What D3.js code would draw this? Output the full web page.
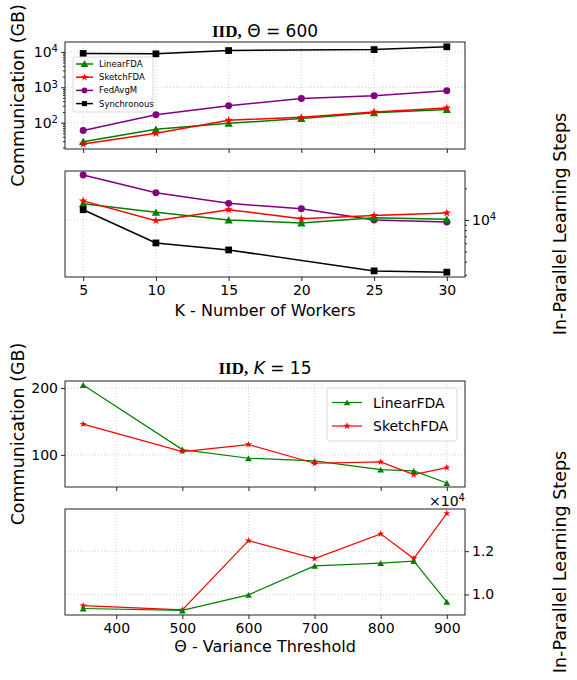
<!DOCTYPE html>
<html>
<head>
<meta charset="utf-8">
<script src="https://cdn.jsdelivr.net/npm/d3@7"></script>
<style>
body { margin: 0; background: #fff; }
text { font-family: "DejaVu Sans", sans-serif; fill: #000; }
</style>
</head>
<body>
<div id="chart"></div>
<script>
// data
const kVals = [5, 10, 15, 20, 25, 30];
const kSync = [5, 10, 15, 25, 30];
const commLinear = [29, 65, 96, 130, 190, 235];
const commSketch = [25, 50, 117, 142, 200, 260];
const commFedAvgM = [60, 168, 302, 480, 580, 800];
const commSync = [9000, 8800, 10900, 11600, 13900];
const stepsLinear = [14300, 11840, 10000, 9360, 10520, 10150];
const stepsSketch = [15200, 9850, 12530, 10290, 11050, 11660];
const stepsFedAvgM = [26800, 18200, 14400, 12800, 10000, 9570];
const stepsSync = [12530, 6040, 5180, 3270, 3180];

const thetaVals = [350, 500, 600, 700, 800, 850, 900];
const commLinearTheta = [204.5, 108, 95, 91, 78, 76, 58];
const commSketchTheta = [146, 105, 115.5, 87.5, 89.5, 70.5, 81];
const stepsLinearTheta = [9350, 9260, 9980, 11320, 11450, 11540, 9660];
const stepsSketchTheta = [9480, 9290, 12490, 11660, 12800, 11660, 13750];

const kTicks = [5, 10, 15, 20, 25, 30];
const thetaTicks = [400, 500, 600, 700, 800, 900];

const width = 577, height = 680;
const left = 65, right = 465;

const svg = d3.select("#chart")
    .append("svg")
    .attr("width", width)
    .attr("height", height);

svg.append("rect").attr("width", width).attr("height", height).attr("fill", "#fff");

const colors = { lin: "green", sk: "red", fed: "purple", sync: "black" };
const shapes = { lin: d3.symbolTriangle, sk: d3.symbolStar, fed: d3.symbolCircle, sync: d3.symbolSquare };

const xK = d3.scaleLinear().domain([3.75, 31.25]).range([left, right]);
const xT = d3.scaleLinear().domain([322.5, 927.5]).range([left, right]);

function sup(sel, base, exp) {
    sel.text(null);
    sel.append("tspan").text(base);
    sel.append("tspan").attr("dy", "-0.45em").style("font-size", "0.72em").text(exp);
}

function frame(top, bottom) {
    svg.append("rect")
        .attr("x", left).attr("y", top)
        .attr("width", right - left).attr("height", bottom - top)
        .attr("fill", "none").attr("stroke", "#222").attr("stroke-width", 1);
}

function gridX(x, ticks, top, bottom) {
    svg.append("g").selectAll("line").data(ticks).join("line")
        .attr("x1", d => x(d)).attr("x2", d => x(d))
        .attr("y1", top).attr("y2", bottom)
        .attr("stroke", "#c8c8c8").attr("stroke-width", 0.8).attr("stroke-dasharray", "1,2");
}

function gridY(y, ticks) {
    svg.append("g").selectAll("line").data(ticks).join("line")
        .attr("x1", left).attr("x2", right)
        .attr("y1", d => y(d)).attr("y2", d => y(d))
        .attr("stroke", "#c8c8c8").attr("stroke-width", 0.8).attr("stroke-dasharray", "1,2");
}

function series(x, y, xs, ys, key, size, lw) {
    const pts = xs.map((d, i) => [d, ys[i]]);
    svg.append("path")
        .attr("d", d3.line().x(d => x(d[0])).y(d => y(d[1]))(pts))
        .attr("fill", "none").attr("stroke", colors[key]).attr("stroke-width", lw);
    svg.append("g").selectAll("path").data(pts).join("path")
        .attr("transform", d => `translate(${x(d[0])},${y(d[1]) + (key === "lin" ? 1 : 0)})`)
        .attr("d", d3.symbol().type(shapes[key]).size(size))
        .attr("fill", colors[key]);
}

function styleAxis(g) {
    g.select(".domain").remove();
    g.selectAll(".tick line").attr("stroke", "#222");
    g.selectAll(".tick text").style("font-size", "14px").style("font-family", "DejaVu Sans");
}

function ylabel(x, cy, txt) {
    svg.append("text")
        .attr("transform", `translate(${x},${cy}) rotate(-90)`)
        .attr("text-anchor", "middle").attr("dominant-baseline", "central")
        .style("font-size", "17.5px").text(txt);
}

// ===== Panel 1: communication vs K (log) =====
const p1 = [42, 149];
const y1 = d3.scaleLog().domain([18, 19000]).range([p1[1], p1[0]]);
gridX(xK, kTicks, p1[0], p1[1]);
gridY(y1, [100, 1000, 10000]);

svg.append("g").attr("transform", `translate(0,${p1[1]})`)
    .call(d3.axisBottom(xK).tickValues(kTicks).tickSize(4).tickFormat(""))
    .call(styleAxis);
const minor1 = [];
[10, 100, 1000].forEach(b => { for (let m = 2; m <= 9; m++) minor1.push(b * m); });
svg.append("g").attr("transform", `translate(${left},0)`)
    .call(d3.axisLeft(y1).tickValues(minor1.filter(v => v >= 18 && v <= 19000)).tickSize(2).tickFormat(""))
    .call(styleAxis);
svg.append("g").attr("transform", `translate(${left},0)`)
    .call(d3.axisLeft(y1).tickValues([100, 1000, 10000]).tickSize(4).tickFormat(""))
    .call(styleAxis);
svg.append("g").attr("transform", `translate(${left},0)`)
    .selectAll("text").data([100, 1000, 10000]).join("text")
    .attr("x", -7).attr("y", d => y1(d) + 5)
    .attr("text-anchor", "end").style("font-size", "14px")
    .each(function(d) { sup(d3.select(this), "10", String(Math.round(Math.log10(d)))); });

series(xK, y1, kSync, commSync, "sync", 46, 1.5);
series(xK, y1, kVals, commFedAvgM, "fed", 38, 1.5);
series(xK, y1, kVals, commLinear, "lin", 30, 1.5);
series(xK, y1, kVals, commSketch, "sk", 22, 1.5);
frame(p1[0], p1[1]);

// legend 1
const leg1 = [["LinearFDA", "lin"], ["SketchFDA", "sk"], ["FedAvgM", "fed"], ["Synchronous", "sync"]];
svg.append("rect").attr("x", 73).attr("y", 57).attr("width", 80).attr("height", 55)
    .attr("rx", 2).attr("fill", "#fff").attr("fill-opacity", 0.85)
    .attr("stroke", "#d0d0d0").attr("stroke-width", 0.8);
leg1.forEach((d, i) => {
    const yy = 64 + i * 13.2;
    svg.append("line").attr("x1", 76).attr("x2", 93).attr("y1", yy).attr("y2", yy)
        .attr("stroke", colors[d[1]]).attr("stroke-width", 1.5);
    svg.append("path").attr("transform", `translate(84.5,${yy + (d[1] === "lin" ? 0.8 : 0)})`)
        .attr("d", d3.symbol().type(shapes[d[1]]).size(d[1] === "sk" ? 18 : 26))
        .attr("fill", colors[d[1]]);
    svg.append("text").attr("x", 99).attr("y", yy + 3).style("font-size", "8.5px").text(d[0]);
});

// title 1
const t1 = svg.append("text").attr("x", 265).attr("y", 37).attr("text-anchor", "middle").style("font-size", "17px");
t1.append("tspan").style("font-family", "Liberation Serif").style("font-weight", "bold").text("IID,");
t1.append("tspan").text(" \u0398 = 600");

ylabel(17.5, (p1[0] + p1[1]) / 2, "Communication (GB)");

// ===== Panel 2: steps vs K (log, right axis) =====
const p2 = [171, 277];
const y2 = d3.scaleLog().domain([2860, 29300]).range([p2[1], p2[0]]);
gridX(xK, kTicks, p2[0], p2[1]);
gridY(y2, [10000]);

svg.append("g").attr("transform", `translate(0,${p2[1]})`)
    .call(d3.axisBottom(xK).tickValues(kTicks).tickSize(4).tickPadding(4).tickFormat(d3.format("d")))
    .call(styleAxis);
const minor2 = [3000, 4000, 5000, 6000, 7000, 8000, 9000, 20000];
svg.append("g").attr("transform", `translate(${right},0)`)
    .call(d3.axisRight(y2).tickValues(minor2).tickSize(2).tickFormat(""))
    .call(styleAxis);
svg.append("g").attr("transform", `translate(${right},0)`)
    .call(d3.axisRight(y2).tickValues([10000]).tickSize(4).tickFormat(""))
    .call(styleAxis);
svg.append("text").attr("x", right + 7).attr("y", y2(10000) + 5)
    .style("font-size", "14px")
    .each(function() { sup(d3.select(this), "10", "4"); });

series(xK, y2, kVals, stepsFedAvgM, "fed", 38, 1.5);
series(xK, y2, kVals, stepsLinear, "lin", 30, 1.5);
series(xK, y2, kVals, stepsSketch, "sk", 22, 1.5);
series(xK, y2, kSync, stepsSync, "sync", 46, 1.5);
frame(p2[0], p2[1]);

svg.append("text").attr("x", 265).attr("y", 316)
    .attr("text-anchor", "middle").style("font-size", "16px").text("K - Number of Workers");

ylabel(560, (p2[0] + p2[1]) / 2, "In-Parallel Learning Steps");

// ===== Panel 3: communication vs Theta =====
const p3 = [381, 487];
const y3 = d3.scaleLinear().domain([52, 210.5]).range([p3[1], p3[0]]);
gridX(xT, thetaTicks, p3[0], p3[1]);
gridY(y3, [100, 200]);

svg.append("g").attr("transform", `translate(0,${p3[1]})`)
    .call(d3.axisBottom(xT).tickValues(thetaTicks).tickSize(4).tickFormat(""))
    .call(styleAxis);
svg.append("g").attr("transform", `translate(${left},0)`)
    .call(d3.axisLeft(y3).tickValues([100, 200]).tickSize(4).tickPadding(3).tickFormat(d3.format("d")))
    .call(styleAxis);

series(xT, y3, thetaVals, commLinearTheta, "lin", 20, 1.2);
series(xT, y3, thetaVals, commSketchTheta, "sk", 16, 1.2);
frame(p3[0], p3[1]);

// legend 2
svg.append("rect").attr("x", 327).attr("y", 388).attr("width", 130).attr("height", 53)
    .attr("rx", 3).attr("fill", "#fff").attr("fill-opacity", 0.85)
    .attr("stroke", "#d0d0d0").attr("stroke-width", 0.8);
[["LinearFDA", "lin"], ["SketchFDA", "sk"]].forEach((d, i) => {
    const yy = 402.5 + i * 23.5;
    svg.append("line").attr("x1", 332).attr("x2", 362).attr("y1", yy).attr("y2", yy)
        .attr("stroke", colors[d[1]]).attr("stroke-width", 1.2);
    svg.append("path").attr("transform", `translate(347,${yy + (d[1] === "lin" ? 0.8 : 0)})`)
        .attr("d", d3.symbol().type(shapes[d[1]]).size(18))
        .attr("fill", colors[d[1]]);
    svg.append("text").attr("x", 373).attr("y", yy + 5).style("font-size", "14px").text(d[0]);
});

const t2 = svg.append("text").attr("x", 265).attr("y", 374).attr("text-anchor", "middle").style("font-size", "17px");
t2.append("tspan").style("font-family", "Liberation Serif").style("font-weight", "bold").text("IID,");
t2.append("tspan").text(" ");
t2.append("tspan").style("font-style", "italic").text("K");
t2.append("tspan").text(" = 15");

ylabel(17.5, (p3[0] + p3[1]) / 2, "Communication (GB)");

// ===== Panel 4: steps vs Theta =====
const p4 = [509, 615];
const y4 = d3.scaleLinear().domain([9050, 13950]).range([p4[1], p4[0]]);
gridX(xT, thetaTicks, p4[0], p4[1]);
gridY(y4, [10000, 12000]);

svg.append("g").attr("transform", `translate(0,${p4[1]})`)
    .call(d3.axisBottom(xT).tickValues(thetaTicks).tickSize(4).tickPadding(4).tickFormat(d3.format("d")))
    .call(styleAxis);
svg.append("g").attr("transform", `translate(${right},0)`)
    .call(d3.axisRight(y4).tickValues([10000, 12000]).tickSize(4).tickPadding(3).tickFormat(d => (d / 1e4).toFixed(1)))
    .call(styleAxis);
svg.append("text").attr("x", right).attr("y", 506).attr("text-anchor", "end")
    .style("font-size", "14px")
    .each(function() { sup(d3.select(this), "\u00d710", "4"); });

series(xT, y4, thetaVals, stepsSketchTheta, "sk", 16, 1.2);
series(xT, y4, thetaVals, stepsLinearTheta, "lin", 20, 1.2);
frame(p4[0], p4[1]);

svg.append("text").attr("x", 265).attr("y", 652)
    .attr("text-anchor", "middle").style("font-size", "16px").text("\u0398 - Variance Threshold");

ylabel(560, (p4[0] + p4[1]) / 2, "In-Parallel Learning Steps");
</script>
</body>
</html>
